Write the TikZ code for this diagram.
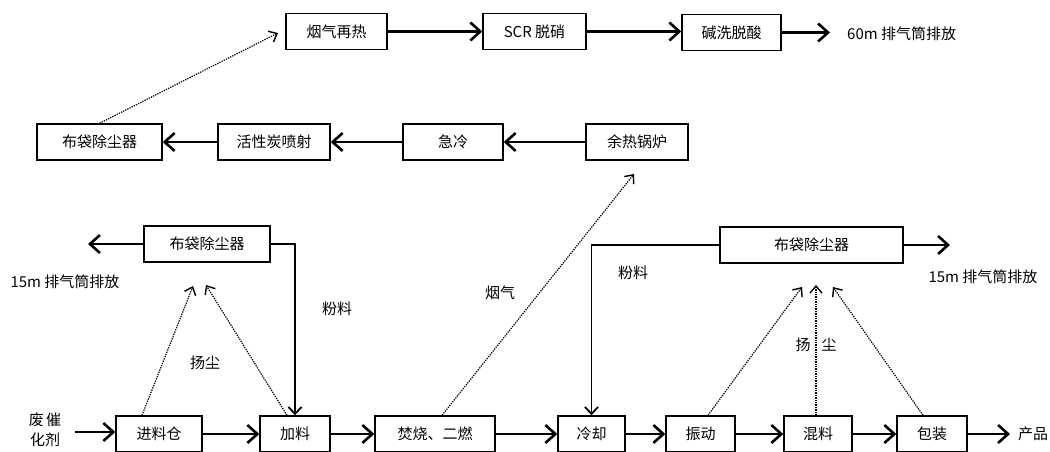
\documentclass[tikz,border=0pt]{standalone}
\usepackage{fontspec}
\newfontfamily\cjk{Noto Sans CJK SC}
\usetikzlibrary{arrows.meta}
\begin{document}
\begin{tikzpicture}[x=1pt,y=-1pt,
  box/.style={draw, line width=1.4pt, minimum height=36pt, inner sep=0pt, font=\cjk\fontsize{15}{17}\selectfont},
  lbl/.style={inner sep=0pt, font=\cjk\fontsize{15}{17}\selectfont},
  flow/.style={line width=2.5pt, -{Straight Barb[length=10pt,width=18pt,line width=2.6pt]}},
  pipe/.style={line width=1.7pt, -{Straight Barb[length=7pt,width=13pt,line width=1.8pt]}},
  dust/.style={line width=1.2pt, dash pattern=on 1.3pt off 1.1pt, -{Straight Barb[length=7pt,width=12pt,line width=1.4pt]}}]
\useasboundingbox (0,0) rectangle (1050,452);
% top row
\node[box, minimum width=101pt] (n1) at (336.5,31.5) {烟气再热};
\node[box, minimum width=103pt] (n2) at (534.5,31.5) {SCR 脱硝};
\node[box, minimum width=99pt] (n3) at (731.5,32.5) {碱洗脱酸};
\coordinate (c60) at (830,32.5);
\node[lbl, anchor=west] (t60) at (847,34) {60m 排气筒排放};
\draw[flow] (n1.east) -- (n2.west);
\draw[flow] (n2.east) -- (n2.east -| n3.west);
\draw[flow] (n3.east) -- (c60);
% second row
\node[box, minimum width=125pt] (m1) at (99.5,142) {布袋除尘器};
\node[box, minimum width=112pt] (m2) at (274,142) {活性炭喷射};
\node[box, minimum width=100pt] (m3) at (453,142) {急冷};
\node[box, minimum width=102pt] (m4) at (637,142) {余热锅炉};
\draw[flow] (m4.west) -- (m3.east);
\draw[flow] (m3.west) -- (m2.east);
\draw[flow] (m2.west) -- (m1.east);
\coordinate (t1) at (278,33);
\draw[dust] (m1.north) -- (t1);
% bottom row
\node[box, minimum width=86pt] (a1) at (159,434) {进料仓};
\node[box, minimum width=70pt] (a2) at (295,434) {加料};
\node[box, minimum width=120pt] (a3) at (435,434) {焚烧、二燃};
\node[box, minimum width=67pt] (a4) at (591.5,434) {冷却};
\node[box, minimum width=69pt] (a5) at (700.5,434) {振动};
\node[box, minimum width=68pt] (a6) at (818,434) {混料};
\node[box, minimum width=70pt] (a7) at (932,434) {包装};
\node[lbl, anchor=west] (prod) at (1018,434) {产品};
\node[lbl, align=center] (feed) at (45,430) {废\,催\\[3pt]化剂};
\coordinate (fin) at (75,432);
\coordinate (pout) at (1010,434);
\draw[flow] (fin) -- (a1.west |- fin);
\draw[flow] (a1.east) -- (a2.west);
\draw[flow] (a2.east) -- (a3.west);
\draw[flow] (a3.east) -- (a4.west);
\draw[flow] (a4.east) -- (a5.west);
\draw[flow] (a5.east) -- (a6.west);
\draw[flow] (a6.east) -- (a7.west);
\draw[flow] (a7.east) -- (pout);
% left dust collector
\node[box, minimum width=126pt] (b1) at (207,244) {布袋除尘器};
\coordinate (l15) at (88,244);
\draw[flow] (b1.west) -- (l15);
\node[lbl] (t15a) at (65,282) {15m 排气筒排放};
\draw[pipe] (b1.east) -| (a2.north);
\node[lbl] (f1) at (337,309) {粉料};
\node[lbl] (y1) at (205,363) {扬尘};
\coordinate (d1) at (193,286);
\coordinate (d2) at (206,285);
\draw[dust] ([xshift=-17pt]a1.north) -- (d1);
\draw[dust] ([xshift=-8pt]a2.north) -- (d2);
% flue gas
\coordinate (d3) at (634,174);
\draw[dust] ([xshift=7pt]a3.north) -- (d3);
\node[lbl] (yq) at (500,293) {烟气};
% right dust collector
\node[box, minimum width=183pt] (b2) at (811.5,245) {布袋除尘器};
\coordinate (r15) at (950,245);
\draw[flow] (b2.east) -- (r15);
\node[lbl] (t15b) at (983,277) {15m 排气筒排放};
\draw[pipe] (b2.west) -| (a4.north);
\node[lbl] (f2) at (633,273) {粉料};
\coordinate (d5) at (802,287);
\coordinate (d6) at (816,285);
\coordinate (d7) at (833,287);
\draw[dust] ([xshift=7.5pt]a5.north) -- (d5);
\draw[dust] ([xshift=-2pt]a6.north) -- (d6);
\draw[dust] ([xshift=-9pt]a7.north) -- (d7);
\node[lbl] (y2a) at (803,345) {扬};
\node[lbl] (y2b) at (829,345) {尘};
\end{tikzpicture}
\end{document}
